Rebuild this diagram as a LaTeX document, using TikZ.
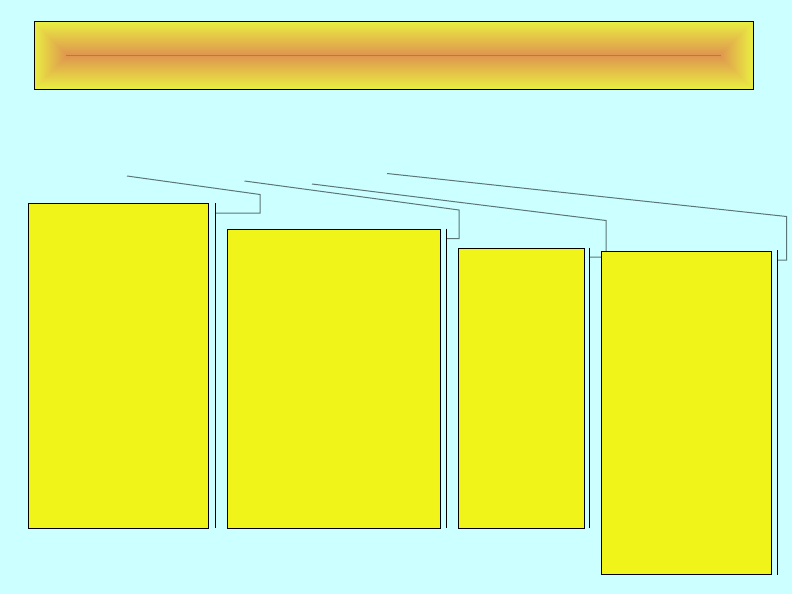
\documentclass[tikz,border=0pt]{standalone}
\usepackage{tikz}
\definecolor{sky}{RGB}{204,255,255}
\definecolor{boxyellow}{RGB}{240,244,24}
\definecolor{banout}{RGB}{233,237,66}
\definecolor{banin}{RGB}{223,150,78}
\definecolor{banline}{RGB}{236,100,30}
\definecolor{calloutgray}{RGB}{90,118,118}
\tikzset{
  box/.style={draw=black, fill=boxyellow, line width=1pt, anchor=north west, inner sep=0pt},
  bar/.style={draw=black, line width=1pt},
  callout/.style={draw=calloutgray, line width=1pt}
}
\begin{document}
\begin{tikzpicture}[x=1pt, y=-1pt]
  \useasboundingbox[fill=sky] (0,0) rectangle (792,594);

  % banner with a rectangular gradient
  \foreach \i in {0,...,32} {
    \pgfmathtruncatemacro\t{100*\i/32}
    \fill[banin!\t!banout] (34+\i,22+\i) rectangle (753-\i,89-\i);
  }
  \fill[banline] (66,54.6) rectangle (721,56.4);
  \node (title) at (393.5,55.5) [draw, line width=1pt, minimum width=719pt, minimum height=67pt, inner sep=0pt] {};

  % callouts
  \coordinate (c1) at (127,176);
  \coordinate (c2) at (244.5,181);
  \coordinate (c3) at (312,184);
  \coordinate (c4) at (387,173.5);
  \coordinate (k1) at (215,213);
  \coordinate (k2) at (446,238.5);
  \coordinate (k3) at (589,257);
  \coordinate (k4) at (777,260);
  \draw[callout] (c1) -- (260,194.5) |- (k1);
  \draw[callout] (c2) -- (459,210) |- (k2);
  \draw[callout] (c3) -- (606,220.5) |- (k3);
  \draw[callout] (c4) -- (786.5,216.5) |- (k4);

  % boxes
  \node (box1) at (28,203) [box, minimum width=180pt, minimum height=325pt] {};
  \node (box2) at (227,228.5) [box, minimum width=212.5pt, minimum height=299pt] {};
  \node (box3) at (458,247.5) [box, minimum width=125.5pt, minimum height=280pt] {};
  \node (box4) at (601,250.5) [box, minimum width=169.5pt, minimum height=323.5pt] {};

  % bars
  \coordinate (bar1) at (215,203);
  \coordinate (bar2) at (446,228.5);
  \coordinate (bar3) at (589,247.5);
  \coordinate (bar4) at (777,250);
  \draw[bar] (bar1) -- (215,528);
  \draw[bar] (bar2) -- (446,527.5);
  \draw[bar] (bar3) -- (589,527.5);
  \draw[bar] (bar4) -- (777,574.5);
\end{tikzpicture}
\end{document}
